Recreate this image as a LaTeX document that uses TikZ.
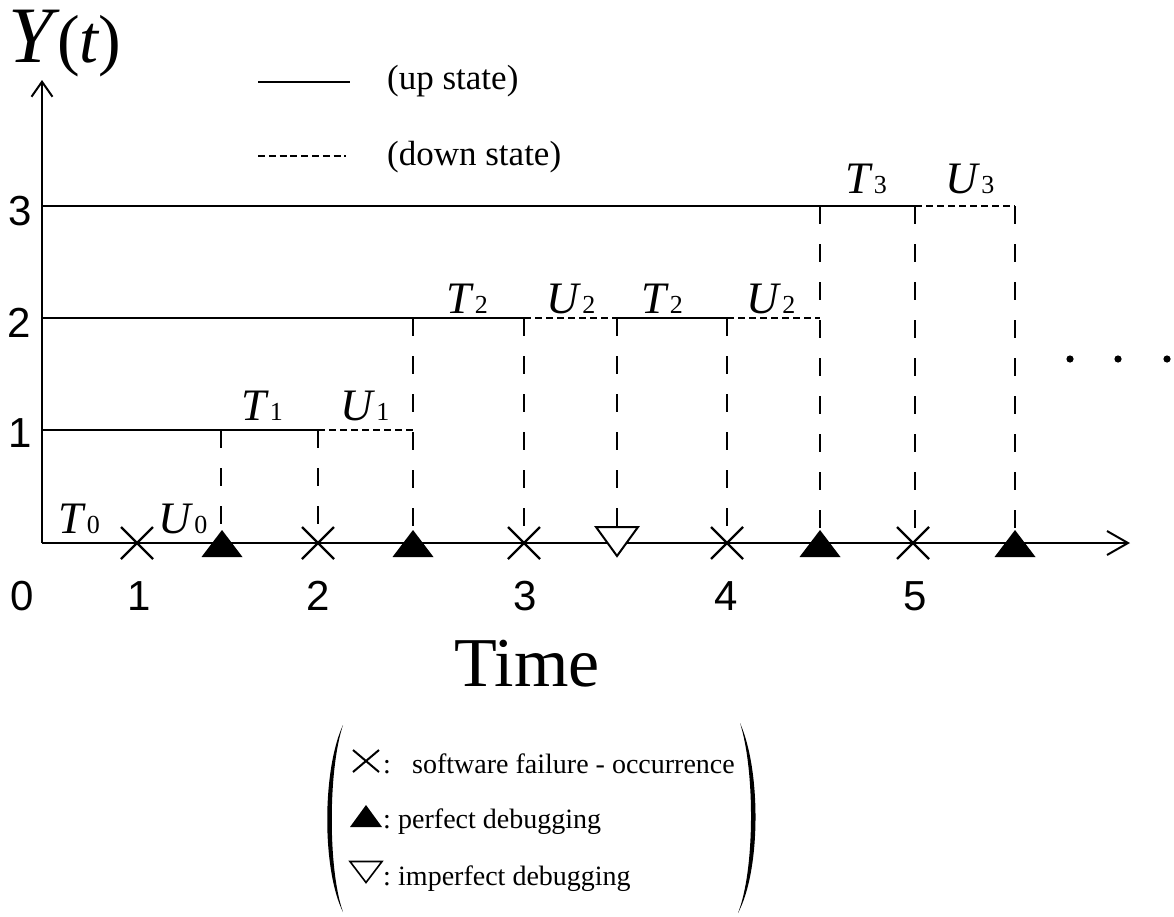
\documentclass[tikz,border=0pt]{standalone}
\usepackage{fontspec}
\setmainfont{Liberation Serif}
\newfontfamily\sansf{Liberation Sans}
\usetikzlibrary{arrows.meta}
\newcommand\seglab[2]{\textit{#1}\kern1pt{\fontsize{26}{26}\selectfont #2}}
\tikzset{
  axis/.style={line width=2pt},
  uppart/.style={line width=1.4pt},
  upseg/.style={line width=2pt},
  downseg/.style={line width=1.6pt, dash pattern=on 7pt off 4pt},
  vguide/.style={line width=1.2pt, dash pattern=on 18pt off 20pt},
  ticklab/.style={font=\sansf\fontsize{42}{42}\selectfont, anchor=base, inner sep=0pt},
  seglabel/.style={font=\fontsize{45}{45}\selectfont, anchor=base, inner sep=0pt},
  legtext/.style={font=\fontsize{35}{35}\selectfont, anchor=base west, inner sep=0pt},
  keytext/.style={font=\fontsize{28}{28}\selectfont, anchor=base west, inner sep=0pt},
  xm/.pic={\draw[line width=2.4pt] (-16,-16)--(16,16) (-16,16)--(16,-16);},
  ftri/.pic={\fill (0,-13) -- (20.5,14) -- (-20.5,14) -- cycle;},
  otri/.pic={\draw[line width=2pt, fill=white, line join=miter] (-21,-15) -- (21,-15) -- (0,14) -- cycle;},
  kxm/.pic={\draw[line width=2pt] (-13,-11)--(13,11) (-13,11)--(13,-11);},
  kftri/.pic={\fill (0,-11) -- (16,11) -- (-16,11) -- cycle;},
  kotri/.pic={\draw[line width=1.6pt, line join=miter] (-16,-10.5) -- (16,-10.5) -- (0,10.5) -- cycle;},
}
\begin{document}
\begin{tikzpicture}[x=1pt, y=-1pt]
\useasboundingbox (0,0) rectangle (1174,916);

% key points
\coordinate (O) at (42,543);
\coordinate (Ytop) at (42,80);
\coordinate (Xend) at (1130,543);

% vertical dashed guides
\foreach \x/\y in {221/430, 318/430, 413/318, 524/318, 617/318, 727/318, 820/206, 915/206, 1015/206}
  \draw[vguide] (\x,\y) -- (\x,543);

% level lines
\draw[uppart] (42,430) -- (318,430);
\draw[upseg] (221,430) -- (318,430);
\draw[downseg] (318,430) -- (413,430);
\draw[uppart] (42,318) -- (524,318);
\draw[upseg] (413,318) -- (524,318);
\draw[downseg] (524,318) -- (617,318);
\draw[upseg] (617,318) -- (727,318);
\draw[downseg] (727,318) -- (820,318);
\draw[uppart] (42,206) -- (915,206);
\draw[upseg] (820,206) -- (915,206);
\draw[downseg] (915,206) -- (1015,206);

% axes
\draw[axis, -{Straight Barb[length=15pt, width=21pt, line width=2pt]}] (O) -- (Ytop);
\draw[axis, -{Straight Barb[length=21pt, width=24pt, line width=2pt]}] (O) -- (Xend);

% markers on the time axis
\foreach \x in {137, 318, 524, 727, 913} \pic at (\x,543) {xm};
\foreach \x in {222, 413, 820, 1015} \pic at (\x,543) {ftri};
\pic at (617,542) {otri};

% axis labels
\node[anchor=base west, inner sep=0pt] (ylab) at (8,62)
  {{\fontsize{80}{80}\selectfont\textit{Y}}\kern-2pt{\fontsize{68}{68}\selectfont(\kern-1pt\textit{t}\kern-1pt)}};
\node[anchor=base, inner sep=0pt, font=\fontsize{70}{70}\selectfont] (tlab) at (527,686) {Time};

% tick labels
\node[ticklab] (t0) at (22,610) {0};
\node[ticklab] (t1) at (139,610) {1};
\node[ticklab] (t2) at (318,610) {2};
\node[ticklab] (t3) at (525,610) {3};
\node[ticklab] (t4) at (726,610) {4};
\node[ticklab] (t5) at (915,610) {5};
\node[ticklab] (y3) at (20,225) {3};
\node[ticklab] (y2) at (19,337) {2};
\node[ticklab] (y1) at (20,447) {1};

% segment labels
\node[seglabel] (T0) at (79,533) {\seglab{T}{0}};
\node[seglabel] (U0) at (183,533) {\seglab{U}{0}};
\node[seglabel] (T1) at (262,420) {\seglab{T}{1}};
\node[seglabel] (U1) at (365,420) {\seglab{U}{1}};
\node[seglabel] (T2a) at (467,313) {\seglab{T}{2}};
\node[seglabel] (U2a) at (571,313) {\seglab{U}{2}};
\node[seglabel] (T2b) at (662,313) {\seglab{T}{2}};
\node[seglabel] (U2b) at (771,313) {\seglab{U}{2}};
\node[seglabel] (T3) at (866,193) {\seglab{T}{3}};
\node[seglabel] (U3) at (970,193) {\seglab{U}{3}};

% continuation dots
\foreach \x in {1070, 1118, 1167} \fill (\x,359) circle (3.6);

% line-style legend
\draw[line width=1.8pt] (258,82) -- (350,82);
\draw[line width=1.6pt, dash pattern=on 7pt off 3.8pt] (258,156) -- (346,156);
\node[legtext] (up) at (387,89) {(up state)};
\node[legtext] (down) at (387,165) {(down state)};

% symbol key
\fill (343,725) .. controls (322,770) and (322,870) .. (343,912)
      .. controls (328,870) and (328,770) .. (343,725) -- cycle;
\fill (740,723) .. controls (761,770) and (761,870) .. (738,913)
      .. controls (755,870) and (755,770) .. (740,723) -- cycle;
\pic at (366,761) {kxm};
\pic at (366,816) {kftri};
\pic at (366,872) {kotri};
\node[keytext] (c1) at (383,773) {:};
\node[keytext] (c2) at (383,828) {:};
\node[keytext] (c3) at (383,885) {:};
\node[keytext] (k1) at (412,773) {software failure - occurrence};
\node[keytext] (k2) at (398,828) {perfect debugging};
\node[keytext] (k3) at (398,885) {imperfect debugging};
\end{tikzpicture}
\end{document}
